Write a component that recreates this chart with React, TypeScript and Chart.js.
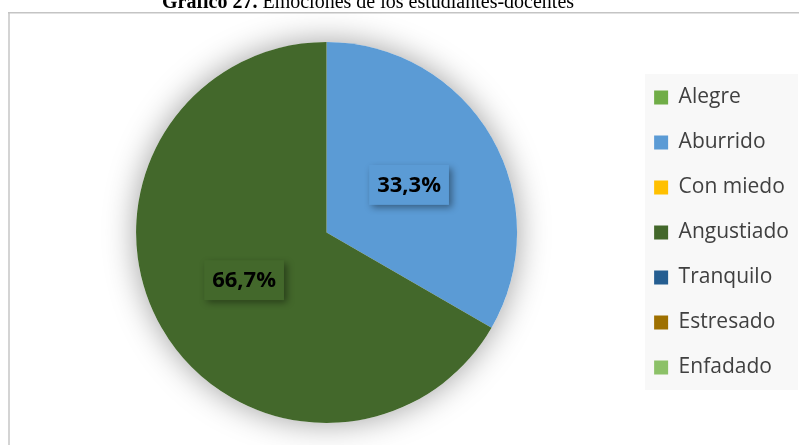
import React, { useEffect, useRef } from "react";
import { Chart, registerables } from "chart.js";

Chart.register(...registerables);

const titleBold = "Gráfico 27.";
const titleRest = " Emociones de los estudiantes-docentes";
const labels = ["Alegre", "Aburrido", "Con miedo", "Angustiado", "Tranquilo", "Estresado", "Enfadado"];
const values = [0, 1, 0, 2, 0, 0, 0];
const colors = ["#70AD47", "#5B9BD5", "#FFC000", "#43682B", "#255E91", "#9E7000", "#8CC168"];

const total = values.reduce((a, b) => a + b, 0);
const pctLabels = values.map((v) => ((v / total) * 100).toFixed(1).replace(".", ",") + "%");

const framePlugin = {
  id: "frame",
  beforeDraw(chart: any) {
    const ctx = chart.ctx;
    ctx.save();
    ctx.fillStyle = "#ffffff";
    ctx.fillRect(0, 0, chart.width, chart.height);
    ctx.fillStyle = "#D4D4D4";
    ctx.fillRect(8, 12, 2, chart.height);
    ctx.fillStyle = "#C4C4C4";
    ctx.fillRect(8, 12, chart.width, 1.5);
    ctx.fillStyle = "#F8F8F8";
    ctx.fillRect(645, 74, 153, 316);
    ctx.restore();
  },
  beforeDatasetsDraw(chart: any) {
    const meta = chart.getDatasetMeta(0);
    const arc = meta.data.find((a: any) => a.endAngle - a.startAngle > 0) || meta.data[0];
    if (!arc) return;
    const ctx = chart.ctx;
    ctx.save();
    ctx.shadowColor = "rgba(0,0,0,0.38)";
    ctx.shadowBlur = 32;
    ctx.fillStyle = "#ffffff";
    ctx.beginPath();
    ctx.arc(arc.x, arc.y, arc.outerRadius, 0, Math.PI * 2);
    ctx.fill();
    ctx.restore();
  },
  afterDatasetsDraw(chart: any) {
    const ctx = chart.ctx;
    const meta = chart.getDatasetMeta(0);
    ctx.save();
    ctx.font = 'bold 22px "Open Sans"';
    ctx.textAlign = "center";
    ctx.textBaseline = "middle";
    meta.data.forEach((arc: any, i: number) => {
      if (!values[i]) return;
      const p = arc.tooltipPosition();
      const tw = ctx.measureText(pctLabels[i]).width;
      const bw = tw + 16;
      const bh = 40;
      ctx.save();
      ctx.shadowColor = "rgba(0,0,0,0.4)";
      ctx.shadowBlur = 7;
      ctx.shadowOffsetX = 3;
      ctx.shadowOffsetY = 3;
      ctx.fillStyle = colors[i];
      ctx.fillRect(p.x - bw / 2, p.y - bh / 2, bw, bh);
      ctx.restore();
      ctx.fillStyle = "#000000";
      ctx.fillText(pctLabels[i], p.x, p.y + 1);
    });
    ctx.restore();
  },
  afterDraw(chart: any) {
    const ctx = chart.ctx;
    ctx.save();
    ctx.fillStyle = "#000000";
    ctx.textBaseline = "alphabetic";
    ctx.textAlign = "left";
    const fb = 'bold 20px "Liberation Serif"';
    const fr = '20px "Liberation Serif"';
    ctx.font = fb;
    const w1 = ctx.measureText(titleBold).width;
    ctx.font = fr;
    const w2 = ctx.measureText(titleRest).width;
    const x0 = 368 - (w1 + w2) / 2;
    const yb = 8;
    ctx.font = fb;
    ctx.fillText(titleBold, x0, yb);
    ctx.font = fr;
    ctx.fillText(titleRest, x0 + w1, yb);
    ctx.restore();
  },
};

export default function App() {
  const ref = useRef<HTMLCanvasElement | null>(null);
  useEffect(() => {
    if (!ref.current) return;
    const chart = new Chart(ref.current, {
      type: "pie",
      data: {
        labels,
        datasets: [
          {
            data: values,
            backgroundColor: colors,
            borderWidth: 0,
          },
        ],
      },
      options: {
        responsive: false,
        animation: false,
        devicePixelRatio: 1,
        layout: { padding: { left: 23, right: 0, top: 42, bottom: 22 } },
        plugins: {
          title: { display: false },
          tooltip: { enabled: false },
          legend: {
            display: true,
            position: "right",
            align: "center",
            labels: {
              boxWidth: 14,
              boxHeight: 14,
              padding: 24,
              color: "#404040",
              font: { family: '"Open Sans"', size: 21 },
            },
          },
        },
      },
      plugins: [framePlugin],
    });
    return () => chart.destroy();
  }, []);
  return (
    <div style={{ position: "absolute", left: 0, top: 0, width: 799, height: 445 }}>
      <canvas ref={ref} width={799} height={445} />
    </div>
  );
}
